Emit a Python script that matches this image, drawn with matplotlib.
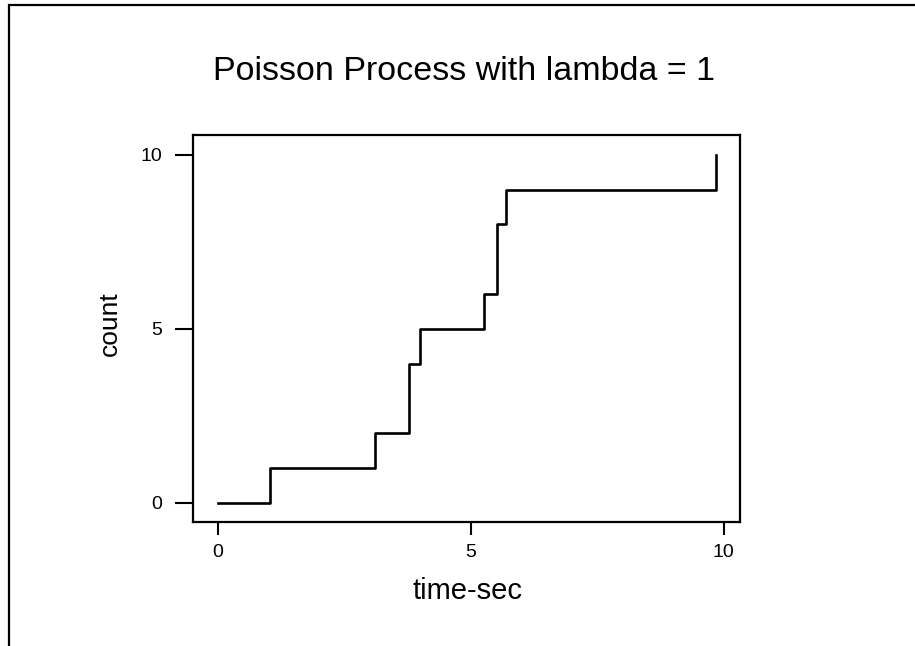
import matplotlib
matplotlib.use("Agg")
import matplotlib.pyplot as plt
import matplotlib.patches as patches

plt.rcParams['font.family'] = ['Liberation Sans', 'DejaVu Sans']

# arrival times, count goes up by one at each
arrival_times = [1.04, 3.10, 3.78, 3.78, 3.99, 5.26, 5.52, 5.52, 5.69, 9.84]
counts = list(range(1, len(arrival_times) + 1))
x_ticks = [0, 5, 10]
y_ticks = [0, 5, 10]

W, H = 915, 646
fig = plt.figure(figsize=(W / 100, H / 100), dpi=100)
ax = fig.add_axes([193 / W, 1 - 522 / H, (740 - 193) / W, (522 - 135) / H])

ax.plot([0] + arrival_times, [0] + counts, drawstyle='steps-post',
        color='black', lw=1.9)

ax.set_xlim(-0.49, 10.32)
ax.set_ylim(-0.55, 10.57)
ax.set_xticks(x_ticks)
ax.set_yticks(y_ticks)
ax.tick_params(axis='x', direction='out', length=9.4, width=1.5, labelsize=14, pad=6.5)
ax.tick_params(axis='y', direction='out', length=13, width=1.5, labelsize=14, pad=9)
for s in ax.spines.values():
    s.set_linewidth(1.6)

ax.set_xlabel('time-sec', fontsize=21)
ax.xaxis.set_label_coords(0.501, -0.141)
ax.set_ylabel('count', fontsize=19)
ax.yaxis.set_label_coords(-0.13, 0.512)

fig.text(464 / W, 1 - 80 / H, 'Poisson Process with lambda = 1',
         ha='center', va='baseline', fontsize=24.5)

# outer frame, cut off at right and bottom like the original
frame = patches.Rectangle((9 / W, -0.2), 2, 1.2 - 5 / H, transform=fig.transFigure,
                          fill=False, edgecolor='black', lw=1.6)
fig.patches.append(frame)

fig.savefig('out.png', dpi=100)
